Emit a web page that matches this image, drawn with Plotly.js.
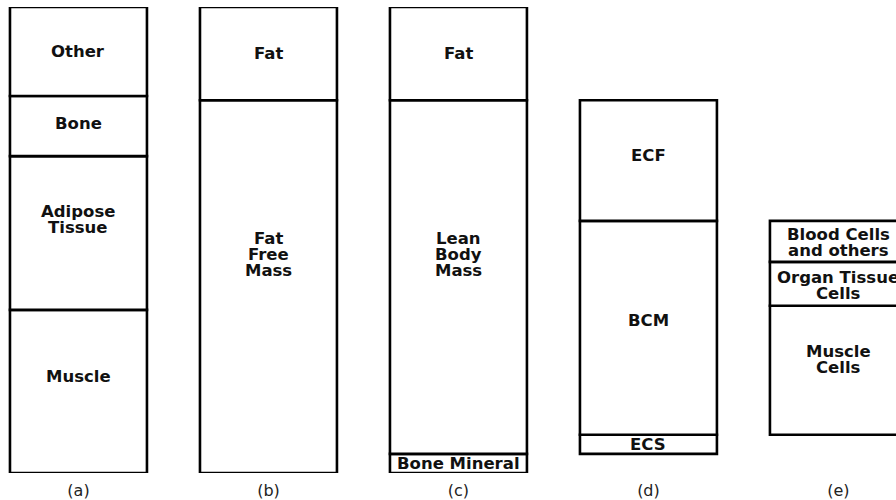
<!DOCTYPE html>
<html>
<head>
<meta charset="utf-8">
<script src="https://cdn.plot.ly/plotly-3.0.1.min.js"></script>
<style>html,body{margin:0;padding:0;background:#fff;}#chart{width:896px;height:500px;}</style>
</head>
<body>
<div id="chart"></div>
<script>
// ---- data (relative share of body mass, bottom to top) ----
const columns = ['(a)', '(b)', '(c)', '(d)', '(e)'];

const colA_labels = ['Muscle', 'Adipose<br>Tissue', 'Bone', 'Other'];
const colA_values = [35.0, 33.0, 12.9, 19.1];
const colA_base = 0;

const colB_labels = ['Fat<br>Free<br>Mass', 'Fat'];
const colB_values = [80.0, 20.0];
const colB_base = 0;

const colC_labels = ['Bone Mineral', 'Lean<br>Body<br>Mass', 'Fat'];
const colC_values = [4.1, 75.9, 20.0];
const colC_base = 0;

const colD_labels = ['ECS', 'BCM', 'ECF'];
const colD_values = [4.1, 45.9, 25.9];
const colD_base = 4.1;

const colE_labels = ['Muscle<br>Cells', 'Organ Tissue<br>Cells', 'Blood Cells<br>and others'];
const colE_values = [27.7, 9.4, 8.8];
const colE_base = 8.2;

// ---- label placement (fraction of segment height from its bottom) ----
const colA_labelFrac = [0.59, 0.59, 0.55, 0.5];
const colB_labelFrac = [0.587, 0.5];
const colC_labelFrac = [0.5, 0.565, 0.5];
const colD_labelFrac = [0.5, 0.533, 0.545];
const colE_labelFrac = [0.58, 0.47, 0.47];

const groups = [
  {col: columns[0], labels: colA_labels, values: colA_values, base: colA_base, frac: colA_labelFrac},
  {col: columns[1], labels: colB_labels, values: colB_values, base: colB_base, frac: colB_labelFrac},
  {col: columns[2], labels: colC_labels, values: colC_values, base: colC_base, frac: colC_labelFrac},
  {col: columns[3], labels: colD_labels, values: colD_values, base: colD_base, frac: colD_labelFrac},
  {col: columns[4], labels: colE_labels, values: colE_values, base: colE_base, frac: colE_labelFrac}
];

const traces = [];
const annotations = [];
const LINE_GAP = 16;
const labelFont = {family: 'DejaVu Sans', size: 16.5, color: '#111'};

groups.forEach(g => {
  let cum = g.base;
  g.values.forEach((v, i) => {
    traces.push({
      type: 'bar',
      x: [g.col],
      y: [v],
      base: [cum],
      width: 0.721,
      marker: {color: '#ffffff', line: {color: '#000000', width: 2.6}},
      hoverinfo: 'skip',
      showlegend: false,
      cliponaxis: false
    });
    const yc = cum + v * g.frac[i];
    const lines = g.labels[i].split('<br>');
    const n = lines.length;
    lines.forEach((ln, k) => {
      annotations.push({
        x: g.col, y: yc, xref: 'x', yref: 'y',
        text: '<b>' + ln + '</b>',
        showarrow: false,
        yshift: ((n - 1) / 2 - k) * LINE_GAP,
        font: labelFont,
        xanchor: 'center', yanchor: 'middle'
      });
    });
    cum += v;
  });
});

const layout = {
  width: 896, height: 500,
  margin: {l: 0, r: 0, t: 7, b: 27, pad: 0},
  paper_bgcolor: '#ffffff', plot_bgcolor: '#ffffff',
  barmode: 'overlay',
  showlegend: false,
  xaxis: {
    type: 'category',
    categoryorder: 'array', categoryarray: columns,
    range: [-0.413, 4.303],
    showgrid: false, zeroline: false, showline: false, ticks: '',
    ticklabelstandoff: 6,
    tickfont: {family: 'DejaVu Sans', size: 16, color: '#222'},
    fixedrange: true
  },
  yaxis: {
    range: [0, 100],
    visible: false, showgrid: false, zeroline: false,
    fixedrange: true
  },
  annotations: annotations
};

Plotly.newPlot('chart', traces, layout, {displayModeBar: false, staticPlot: true});
</script>
</body>
</html>
